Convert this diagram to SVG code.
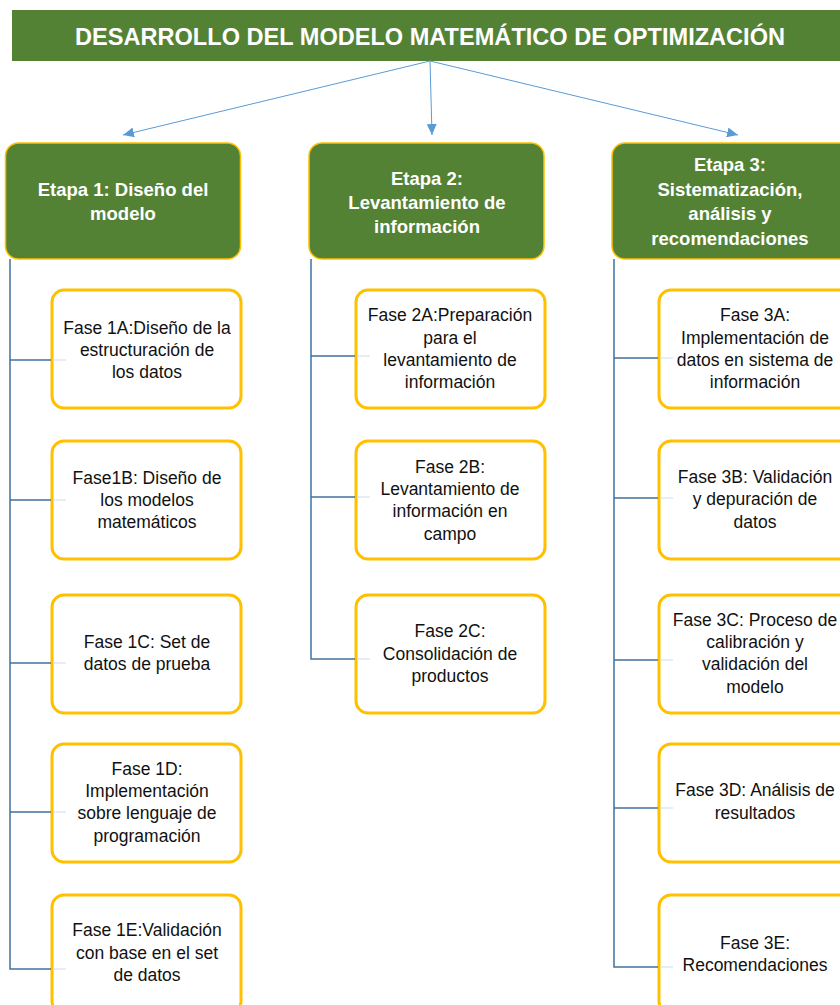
<svg xmlns="http://www.w3.org/2000/svg" width="840" height="1005" viewBox="0 0 840 1005">
<style>
.title{font-family:"Liberation Sans",Arial,sans-serif;font-weight:bold;font-size:24px;fill:#ffffff}
.etapa rect{fill:#548235;stroke:#FFC000;stroke-width:1.5}
.etapa text{font-family:"Liberation Sans",Arial,sans-serif;font-weight:bold;font-size:18.5px;fill:#ffffff;text-anchor:middle}
.fase rect{fill:#ffffff;stroke:#FFC000;stroke-width:3}
.fase text{font-family:"Liberation Sans",Arial,sans-serif;font-size:17.5px;fill:#111111;text-anchor:middle}
.conn{fill:none;stroke:#41719C;stroke-width:1.5}
.faint{fill:none;stroke:#E6EDF6;stroke-width:2}
.arrow{fill:none;stroke:#5B9BD5;stroke-width:1}
</style>
<defs>
<marker id="ah" markerUnits="userSpaceOnUse" markerWidth="12" markerHeight="10" refX="11" refY="5" orient="auto">
<path d="M0,0 L11,5 L0,10 Z" fill="#5B9BD5"/>
</marker>
</defs>
<rect width="840" height="1005" fill="#ffffff"/>

<g id="title">
<rect x="12" y="10" width="840" height="51" fill="#548235"/>
<text class="title" x="430" y="44.5" text-anchor="middle" textLength="710" lengthAdjust="spacingAndGlyphs">DESARROLLO DEL MODELO MATEMÁTICO DE OPTIMIZACIÓN</text>
</g>

<g id="arrows">
<line class="arrow" x1="430" y1="61" x2="123" y2="135" marker-end="url(#ah)"/>
<line class="arrow" x1="430" y1="61" x2="432" y2="135" marker-end="url(#ah)"/>
<line class="arrow" x1="430" y1="61" x2="738" y2="135" marker-end="url(#ah)"/>
</g>

<g id="etapa1" class="etapa">
<rect x="5.5" y="143" width="235" height="116" rx="13"/>
<text x="123" y="195.5">Etapa 1: Diseño del</text>
<text x="123" y="219.5">modelo</text>
</g>
<g id="etapa2" class="etapa">
<rect x="309" y="143" width="235" height="116" rx="13"/>
<text x="427" y="184.5">Etapa 2:</text>
<text x="427" y="208.5">Levantamiento de</text>
<text x="427" y="232.5">información</text>
</g>
<g id="etapa3" class="etapa">
<rect x="612" y="143" width="245" height="116" rx="13"/>
<text x="730" y="170.5">Etapa 3:</text>
<text x="730" y="195.5">Sistematización,</text>
<text x="730" y="219.5">análisis y</text>
<text x="730" y="244.5">recomendaciones</text>
</g>

<g id="fase1a" class="fase">
<rect x="52" y="290" width="189" height="118" rx="12"/>
<text x="147" y="334">Fase 1A:Diseño de la</text>
<text x="147" y="356">estructuración de</text>
<text x="147" y="378">los datos</text>
</g>
<g id="fase1b" class="fase">
<rect x="52" y="441" width="189" height="118" rx="12"/>
<text x="147" y="484">Fase1B: Diseño de</text>
<text x="147" y="506">los modelos</text>
<text x="147" y="528">matemáticos</text>
</g>
<g id="fase1c" class="fase">
<rect x="52" y="595" width="189" height="118" rx="12"/>
<text x="147" y="648">Fase 1C: Set de</text>
<text x="147" y="670">datos de prueba</text>
</g>
<g id="fase1d" class="fase">
<rect x="52" y="744" width="189" height="118" rx="12"/>
<text x="147" y="775">Fase 1D:</text>
<text x="147" y="797">Implementación</text>
<text x="147" y="819">sobre lenguaje de</text>
<text x="147" y="842">programación</text>
</g>
<g id="fase1e" class="fase">
<rect x="52" y="895" width="189" height="118" rx="12"/>
<text x="147" y="936">Fase 1E:Validación</text>
<text x="147" y="959">con base en el set</text>
<text x="147" y="981">de datos</text>
</g>

<g id="fase2a" class="fase">
<rect x="356" y="290" width="189" height="118" rx="12"/>
<text x="450" y="321">Fase 2A:Preparación</text>
<text x="450" y="344">para el</text>
<text x="450" y="366">levantamiento de</text>
<text x="450" y="388">información</text>
</g>
<g id="fase2b" class="fase">
<rect x="356" y="441" width="189" height="118" rx="12"/>
<text x="450" y="473">Fase 2B:</text>
<text x="450" y="495">Levantamiento de</text>
<text x="450" y="517">información en</text>
<text x="450" y="540">campo</text>
</g>
<g id="fase2c" class="fase">
<rect x="356" y="595" width="189" height="118" rx="12"/>
<text x="450" y="637">Fase 2C:</text>
<text x="450" y="660">Consolidación de</text>
<text x="450" y="682">productos</text>
</g>

<g id="fase3a" class="fase">
<rect x="659" y="290" width="192" height="118" rx="12"/>
<text x="755" y="321">Fase 3A:</text>
<text x="755" y="344">Implementación de</text>
<text x="755" y="366">datos en sistema de</text>
<text x="755" y="388">información</text>
</g>
<g id="fase3b" class="fase">
<rect x="659" y="441" width="192" height="118" rx="12"/>
<text x="755" y="483">Fase 3B: Validación</text>
<text x="755" y="505">y depuración de</text>
<text x="755" y="528">datos</text>
</g>
<g id="fase3c" class="fase">
<rect x="659" y="595" width="192" height="118" rx="12"/>
<text x="755" y="626">Fase 3C: Proceso de</text>
<text x="755" y="648">calibración y</text>
<text x="755" y="670">validación del</text>
<text x="755" y="693">modelo</text>
</g>
<g id="fase3d" class="fase">
<rect x="659" y="744" width="192" height="118" rx="12"/>
<text x="755" y="796">Fase 3D: Análisis de</text>
<text x="755" y="819">resultados</text>
</g>
<g id="fase3e" class="fase">
<rect x="659" y="895" width="192" height="118" rx="12"/>
<text x="755" y="949">Fase 3E:</text>
<text x="755" y="971">Recomendaciones</text>
</g>

<g id="connectors">
<path class="conn" d="M10,259 V969 H51 M10,360 H51 M10,500 H51 M10,663 H51 M10,812 H51"/>
<path class="conn" d="M311,259 V659 H355 M311,356 H355 M311,497 H355"/>
<path class="conn" d="M614,259 V967 H658 M614,358 H658 M614,498 H658 M614,660 H658 M614,808 H658"/>
<path class="faint" d="M54,360 H66 M54,500 H66 M54,663 H66 M54,812 H66 M54,969 H66 M358,356 H370 M358,497 H370 M358,659 H370 M661,358 H673 M661,498 H673 M661,660 H673 M661,808 H673 M661,967 H673"/>
</g>
</svg>
